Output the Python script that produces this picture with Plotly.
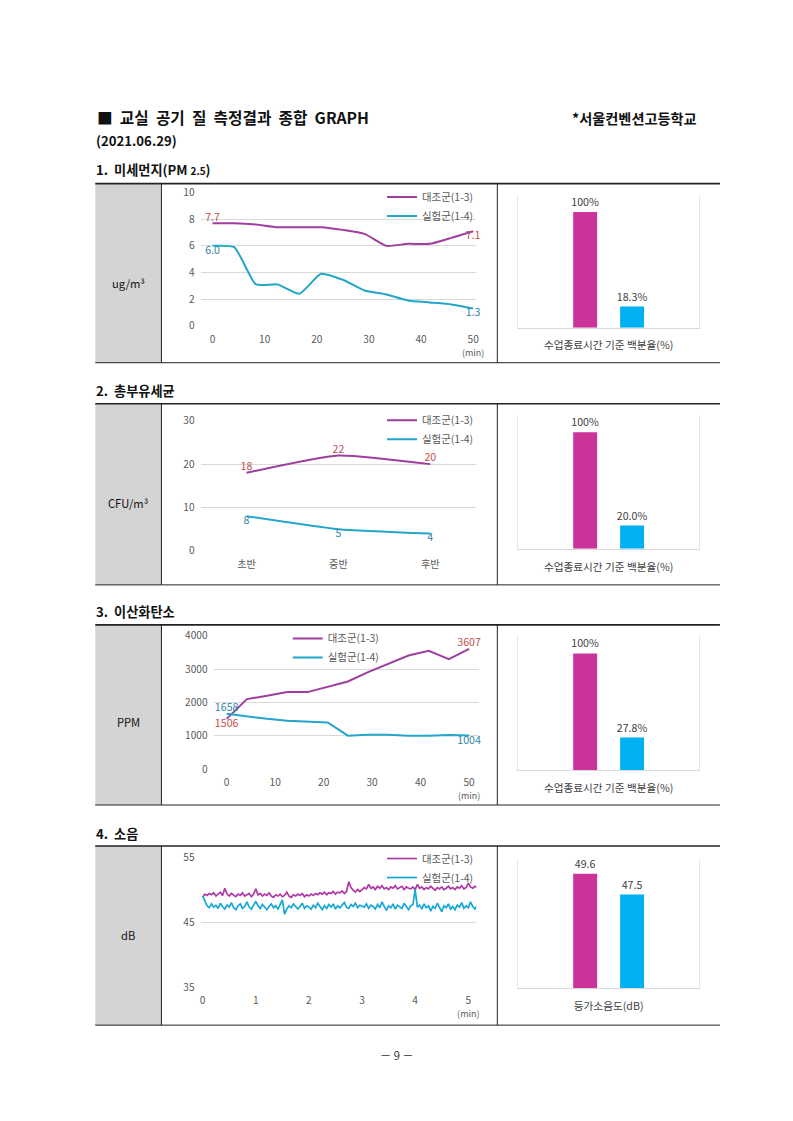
import plotly.graph_objects as go

W, H = 793, 1121
# the photographed page comes out slightly scaled/shifted; these map page pixels to figure pixels
S, AX, AY = 0.986, 1.0, 8.5

# ---------------- data ----------------
groups = ["대조군(1-3)", "실험군(1-4)"]

# 1. PM2.5 (ug/m3), measured every ~4 min over 50 min
pm_time = [0, 4.17, 8.33, 12.5, 16.67, 20.83, 25, 29.17, 33.33, 37.5, 41.67, 45.83, 50]
pm_ctrl = [7.7, 7.7, 7.6, 7.4, 7.4, 7.4, 7.2, 6.9, 6.0, 6.15, 6.15, 6.6, 7.1]
pm_exp = [6.0, 5.9, 3.1, 3.1, 2.4, 3.9, 3.45, 2.65, 2.35, 1.9, 1.75, 1.6, 1.3]
pm_pct = [100, 18.3]

# 2. Total airborne bacteria (CFU/m3)
cfu_cat = ["초반", "중반", "후반"]
cfu_ctrl = [18, 22, 20]
cfu_exp = [8, 5, 4]
cfu_pct = [100, 20.0]

# 3. CO2 (PPM)
co2_time = [0, 4.17, 8.33, 12.5, 16.67, 20.83, 25, 29.17, 33.33, 37.5, 41.67, 45.83, 50]
co2_ctrl = [1506, 2100, 2200, 2310, 2310, 2460, 2630, 2910, 3160, 3410, 3550, 3300, 3607]
co2_exp = [1658, 1580, 1510, 1450, 1430, 1400, 1000, 1030, 1030, 1000, 1000, 1020, 1004]
co2_pct = [100, 27.8]

# 4. Noise (dB), one sample every 2.5 s
noise_interval_s = 2.5
noise_ctrl = [
    48.8, 49.3, 49.1, 49.4, 49.2, 49.5, 49.0, 49.3, 49.6, 49.1, 50.2, 49.3, 49.0, 49.4, 49.2, 48.9, 49.3, 49.1, 49.5, 49.0, 49.2, 49.4, 48.9, 49.3, 50.1,
    49.2, 49.4, 49.0, 49.3, 49.1, 49.5, 49.0, 48.8, 49.2, 49.0, 49.3, 48.9, 49.1, 49.6, 49.0, 48.8, 49.2, 49.0, 49.3, 49.1, 49.4, 48.9, 49.2, 49.0,
    49.3, 49.1, 49.4, 49.2, 49.5, 49.3, 49.6, 49.2, 49.5, 49.4, 49.7, 49.3, 49.6, 49.5, 49.8, 49.4, 49.7, 51.2, 50.3, 49.9, 49.6, 50.0, 49.7,
    50.0, 50.3, 50.1, 50.8, 50.2, 50.4, 50.0, 50.5, 50.2, 50.6, 50.1, 50.3, 50.0, 50.4, 50.2, 50.6, 50.1, 50.3, 50.5, 50.0, 50.4, 50.2, 50.1, 50.4, 50.0,
    50.8, 50.2, 50.4, 50.0, 50.3, 50.1, 50.5, 50.2, 49.9, 50.3, 50.1, 50.4, 50.0, 50.2, 50.5, 50.1, 50.3, 50.0, 50.4, 50.2, 50.6, 50.1, 50.3, 51.0, 50.4, 50.2, 50.5, 50.3,
]
noise_exp = [
    49.0, 48.3, 47.5, 47.2, 47.8, 47.3, 47.6, 47.1, 47.9, 47.4, 47.0, 47.6, 47.3, 48.0, 47.2, 46.9, 47.5, 47.8, 47.1, 47.4, 48.1, 47.3, 47.0, 47.6, 48.2,
    47.5, 47.1, 47.7, 47.3, 46.9, 47.4, 47.8, 47.2, 47.5, 47.0, 47.6, 48.4, 46.2, 47.0, 47.5, 47.2, 47.8, 47.3, 47.0, 47.4, 47.9, 47.1, 47.5, 47.3,
    47.0, 47.6, 47.2, 47.9, 47.4, 46.9, 47.5, 47.1, 47.7, 47.3, 47.8, 47.0, 47.5, 47.2, 47.6, 48.0, 47.3, 47.1, 47.7, 47.4, 47.9, 47.2, 47.6,
    47.5, 47.3, 47.8, 47.1, 47.6, 47.4, 47.0, 47.7, 47.2, 48.1, 47.4, 46.8, 47.5, 47.2, 47.8, 47.0, 47.6, 47.3, 47.1, 47.9, 47.4, 46.9, 47.5, 47.7, 50.0,
    47.3, 47.6, 47.0, 47.8, 47.2, 47.5, 46.7, 47.4, 47.1, 47.9, 47.3, 46.6, 47.5, 47.2, 47.8, 47.0, 47.4, 46.9, 47.6, 47.3, 48.0, 47.1, 47.5, 47.2, 48.1, 47.4, 47.0, 47.6, 47.3,
]
noise_leq = [49.6, 47.5]

pct_label = "수업종료시간 기준 백분율(%)"
noise_label = "등가소음도(dB)"

# ---------------- styles ----------------
FONT = "Noto Sans CJK KR"
C_CTRL = "#9e3f9e"
C_EXP = "#22a6c9"
C_CTRL_N = "#ad3aa6"
C_EXP_N = "#17a8d6"
C_BAR1 = "#cc3399"
C_BAR2 = "#00b0f0"
C_LBL1 = "#c0504d"
C_LBL2 = "#2f86a3"
GRID = "#d9d9d9"
TICK = "#595959"


def fx(x):
    return (x - AX) / S / W


def fy(y):
    return 1 - (y - AY) / S / H


def fs(size):
    return round(size / S, 2)


fig = go.Figure()


def end_labels(vals, fmt, first_pos, last_pos):
    txt = [""] * len(vals)
    pos = ["top center"] * len(vals)
    txt[0] = fmt.format(vals[0])
    txt[-1] = fmt.format(vals[-1])
    pos[0] = first_pos
    pos[-1] = last_pos
    return txt, pos


LBL = fs(10.5)

# ---- chart 1 lines ----
t, p = end_labels(pm_ctrl, "{:.1f}", "top center", "bottom center")
fig.add_trace(go.Scatter(x=pm_time, y=pm_ctrl, name=groups[0], mode="lines+text", text=t, textposition=p,
                         textfont=dict(color=C_LBL1, size=LBL), line=dict(color=C_CTRL, width=2, shape="spline", smoothing=0.5),
                         xaxis="x", yaxis="y", legend="legend", cliponaxis=False))
t, p = end_labels(pm_exp, "{:.1f}", "bottom center", "bottom center")
fig.add_trace(go.Scatter(x=pm_time, y=pm_exp, name=groups[1], mode="lines+text", text=t, textposition=p,
                         textfont=dict(color=C_LBL2, size=LBL), line=dict(color=C_EXP, width=2, shape="spline", smoothing=0.5),
                         xaxis="x", yaxis="y", legend="legend", cliponaxis=False))

# ---- chart 2 lines ----
fig.add_trace(go.Scatter(x=cfu_cat, y=cfu_ctrl, name=groups[0], mode="lines+text", text=[str(v) for v in cfu_ctrl],
                         textposition="top center", textfont=dict(color=C_LBL1, size=LBL),
                         line=dict(color=C_CTRL, width=2, shape="spline", smoothing=0.5),
                         xaxis="x2", yaxis="y2", legend="legend2", cliponaxis=False))
fig.add_trace(go.Scatter(x=cfu_cat, y=cfu_exp, name=groups[1], mode="lines+text", text=[str(v) for v in cfu_exp],
                         textposition="bottom center", textfont=dict(color=C_LBL2, size=LBL),
                         line=dict(color=C_EXP, width=2, shape="spline", smoothing=0.5),
                         xaxis="x2", yaxis="y2", legend="legend2", cliponaxis=False))

# ---- chart 3 lines ----
t, p = end_labels(co2_ctrl, "{:d}", "bottom center", "top center")
fig.add_trace(go.Scatter(x=co2_time, y=co2_ctrl, name=groups[0], mode="lines+text", text=t, textposition=p,
                         textfont=dict(color=C_LBL1, size=LBL), line=dict(color=C_CTRL, width=2),
                         xaxis="x3", yaxis="y3", legend="legend3", cliponaxis=False))
t, p = end_labels(co2_exp, "{:d}", "top center", "bottom center")
fig.add_trace(go.Scatter(x=co2_time, y=co2_exp, name=groups[1], mode="lines+text", text=t, textposition=p,
                         textfont=dict(color=C_LBL2, size=LBL), line=dict(color=C_EXP, width=2),
                         xaxis="x3", yaxis="y3", legend="legend3", cliponaxis=False))

# ---- chart 4 lines ----
nt_ctrl = [i * noise_interval_s / 60 for i in range(len(noise_ctrl))]
nt_exp = [i * noise_interval_s / 60 for i in range(len(noise_exp))]
fig.add_trace(go.Scatter(x=nt_ctrl, y=noise_ctrl, name=groups[0], mode="lines", line=dict(color=C_CTRL_N, width=1.7),
                         xaxis="x4", yaxis="y4", legend="legend4"))
fig.add_trace(go.Scatter(x=nt_exp, y=noise_exp, name=groups[1], mode="lines", line=dict(color=C_EXP_N, width=1.7),
                         xaxis="x4", yaxis="y4", legend="legend4"))


# ---- bar charts ----
def pct_text(v):
    return "100%" if v == 100 else "{:.1f}%".format(v)


bar_sets = [
    (pm_pct, pct_label, "x5", "y5", pct_text),
    (cfu_pct, pct_label, "x6", "y6", pct_text),
    (co2_pct, pct_label, "x7", "y7", pct_text),
    (noise_leq, noise_label, "x8", "y8", lambda v: "{:.1f}".format(v)),
]
for vals, lab, xa, ya, f in bar_sets:
    for gi, (v, col) in enumerate(zip(vals, [C_BAR1, C_BAR2])):
        fig.add_trace(go.Bar(x=[lab], y=[v], name=groups[gi], marker=dict(color=col, line=dict(width=0)),
                             text=[f(v)], textposition="outside", constraintext="none",
                             textfont=dict(size=fs(10.5), color="#404040"),
                             xaxis=xa, yaxis=ya, showlegend=False, cliponaxis=False, offsetgroup=str(gi)))

# ---------------- layout ----------------
layout = dict(
    width=W, height=H, autosize=False,
    margin=dict(l=0, r=0, t=0, b=0),
    paper_bgcolor="white", plot_bgcolor="rgba(0,0,0,0)",
    font=dict(family=FONT, size=fs(10), color=TICK),
    barmode="group", bargap=0.48, bargroupgap=0.49,
)

MIN = "<br><span style='font-size:9px'>(min)</span>"
line_dom = [
    ((200, 475), (326, 193), dict(range=[-2.3, 50.6], tickvals=[0, 10, 20, 30, 40, 50],
                                  ticktext=["0", "10", "20", "30", "40", "50" + MIN]),
     dict(range=[0, 10], dtick=2)),
    ((200, 475), (551, 421), dict(range=[-0.5, 2.5], type="category"), dict(range=[0, 30], dtick=10)),
    ((213, 478), (769, 636), dict(range=[-2.7, 52.1], tickvals=[0, 10, 20, 30, 40, 50],
                                  ticktext=["0", "10", "20", "30", "40", "50" + MIN]),
     dict(range=[0, 4000], dtick=1000)),
    ((200, 475), (987, 857), dict(range=[-0.04, 5.15], tickvals=[0, 1, 2, 3, 4, 5],
                                  ticktext=["0", "1", "2", "3", "4", "5" + MIN]),
     dict(range=[35, 55], tickvals=[35, 45, 55])),
]
for i, (xd, yd, xa, ya) in enumerate(line_dom, start=1):
    sx = "" if i == 1 else str(i)
    layout["xaxis" + sx] = dict(domain=[fx(xd[0]), fx(xd[1])], anchor="y" + sx, showgrid=False, zeroline=False,
                                showline=False, ticks="", tickfont=dict(size=fs(10), color=TICK), ticklabelstandoff=6,
                                fixedrange=True, **xa)
    layout["yaxis" + sx] = dict(domain=[fy(yd[0]), fy(yd[1])], anchor="x" + sx, showgrid=True, gridcolor=GRID,
                                gridwidth=1, zeroline=False, showline=False, ticks="",
                                tickfont=dict(size=fs(10), color=TICK), ticklabelstandoff=5, fixedrange=True, **ya)

bar_dom = [((517, 697), (328, 195), [0, 115]), ((517, 697), (549, 415), [0, 115]),
           ((517, 697), (770, 636), [0, 115]), ((517, 697), (988, 860), [38, 51])]
for j, (xd, yd, yr) in enumerate(bar_dom, start=5):
    sx = str(j)
    layout["xaxis" + sx] = dict(domain=[fx(xd[0]), fx(xd[1])], anchor="y" + sx, showgrid=False, zeroline=False,
                                showline=True, linecolor=GRID, linewidth=1, ticks="", type="category",
                                tickfont=dict(size=fs(10.5), color="#404040"), ticklabelstandoff=8, fixedrange=True)
    layout["yaxis" + sx] = dict(domain=[fy(yd[0]), fy(yd[1])], anchor="x" + sx, range=yr, showgrid=False,
                                zeroline=False, showline=True, mirror=True, linecolor="#e6e6e6", linewidth=1,
                                showticklabels=False, ticks="", fixedrange=True)

leg_pos = [(381, 183), (381, 406), (287, 624), (381, 844)]
for k, (lx, ly) in enumerate(leg_pos, start=1):
    key = "legend" if k == 1 else "legend" + str(k)
    layout[key] = dict(x=fx(lx), y=fy(ly), xanchor="left", yanchor="top", bgcolor="rgba(0,0,0,0)",
                       font=dict(size=fs(10.3), color=TICK, family=FONT), tracegroupgap=0, itemclick=False,
                       itemdoubleclick=False)

# ---------------- page: table frames and texts ----------------
shapes = []
tables = [(184, 363), (404, 585), (625, 805), (846, 1025)]
for top, bot in tables:
    shapes.append(dict(type="rect", xref="paper", yref="paper", x0=fx(95), x1=fx(161), y0=fy(bot), y1=fy(top),
                       fillcolor="#d4d4d4", line=dict(width=0), layer="below"))
    shapes.append(dict(type="line", xref="paper", yref="paper", x0=fx(95), x1=fx(718), y0=fy(top), y1=fy(top),
                       line=dict(color="#222222", width=1.6)))
    shapes.append(dict(type="line", xref="paper", yref="paper", x0=fx(95), x1=fx(718), y0=fy(bot), y1=fy(bot),
                       line=dict(color="#222222", width=1)))
    for vx in (161, 496):
        shapes.append(dict(type="line", xref="paper", yref="paper", x0=fx(vx), x1=fx(vx), y0=fy(bot), y1=fy(top),
                           line=dict(color="#222222", width=1)))
layout["shapes"] = shapes

ann = []


def add_text(x, y, text, size, bold=False, anchor="left", color="#111111"):
    ann.append(dict(x=fx(x), y=fy(y), xref="paper", yref="paper", text=("<b>%s</b>" % text) if bold else text,
                    showarrow=False, xanchor=anchor, yanchor="middle",
                    font=dict(family=FONT, size=fs(size), color=color)))


add_text(95, 118, "■  교실  공기  질  측정결과  종합  GRAPH", 15.5, bold=True)
add_text(697, 118, "*서울컨벤션고등학교", 14, bold=True, anchor="right")
add_text(94, 141, "(2021.06.29)", 13, bold=True)
add_text(94, 170, "1.  미세먼지(PM <span style='font-size:10px'>2.5</span>)", 13, bold=True)
add_text(94, 391, "2.  총부유세균", 13, bold=True)
add_text(94, 612, "3.  이산화탄소", 13, bold=True)
add_text(94, 833, "4.  소음", 13, bold=True)
add_text(128, 283, "ug/m³", 11, anchor="center")
add_text(128, 503, "CFU/m³", 11, anchor="center")
add_text(128, 722, "PPM", 11, anchor="center")
add_text(128, 935, "dB", 11, anchor="center")
add_text(396, 1055, "－ 9 －", 11, anchor="center", color="#333333")
layout["annotations"] = ann

fig.update_layout(**layout)
fig.write_html("out.html", config=dict(displayModeBar=False),
               post_script="document.body.style.margin='0';document.body.style.overflow='hidden';")
